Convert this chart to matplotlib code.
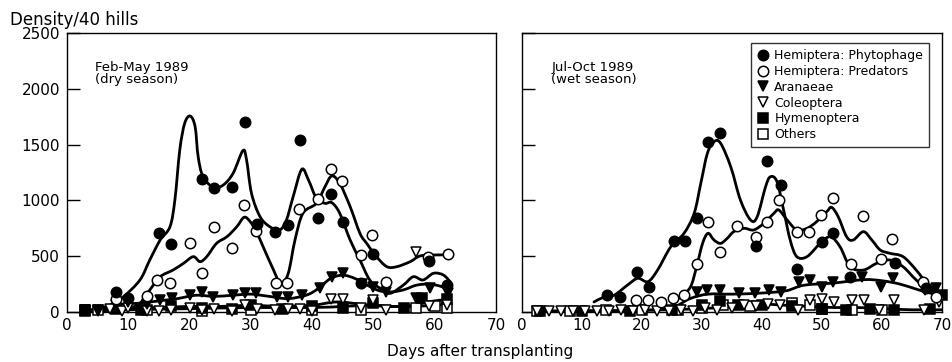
import numpy as np
import matplotlib
matplotlib.use("Agg")
import matplotlib.pyplot as plt
from matplotlib.path import Path
from matplotlib.patches import PathPatch
from matplotlib.lines import Line2D

# ---- Feb-May 1989 (dry season) ----
dry_phy_x = [8, 10, 15, 17, 22, 24, 27, 29, 31, 34, 36, 38, 41, 43, 45, 48, 50, 59, 62]
dry_phy_y = [175, 125, 710, 610, 1190, 1110, 1120, 1700, 790, 715, 780, 1540, 840, 1060, 810, 260, 520, 460, 240]
dry_phy_cx = [3, 7, 9.2, 11.9, 13.5, 15.2, 16.8, 17.6, 18.4, 19.2, 20.1, 20.9, 21.4, 22.2, 23.9, 25.5,
              27.1, 28.7, 29.3, 30.1, 31.5, 33.1, 34.7, 35.8, 36.9, 38.3, 39.4, 40.7, 42.1, 43.2, 44.5,
              46.2, 47.8, 49.4, 51.1, 52.7, 54.9, 56.5, 58.1, 59.8, 61.4, 62.5]
dry_phy_cy = [10, 60, 137, 287, 466, 645, 764, 1004, 1452, 1691, 1756, 1661, 1392, 1212, 1117, 1138,
              1243, 1446, 1362, 1064, 854, 764, 735, 824, 1033, 1278, 1183, 1019, 974, 980, 885,
              645, 466, 287, 212, 167, 242, 316, 287, 347, 332, 272]

dry_pred_x = [8, 13, 14.7, 16.8, 20, 22, 24, 27, 28.9, 30.8, 34.1, 35.9, 37.9, 41, 43, 44.9, 48, 49.8, 52, 58.9, 62.1]
dry_pred_y = [116, 143, 287, 257, 621, 352, 759, 571, 959, 729, 257, 263, 923, 1012, 1281, 1177, 508, 690, 272, 496, 517]
dry_pred_cx = [10, 11.9, 13.5, 15.2, 17.3, 19, 20.6, 21.7, 22.8, 24.4, 26.1, 27.7, 28.9, 29.9, 30.9, 32,
               33.7, 34.9, 36.1, 37.2, 38.5, 40.7, 42.1, 43.2, 44.5, 46.2, 47.8, 48.9, 50.5, 52.2, 53.8,
               56, 57.6, 59.8, 61.9]
dry_pred_cy = [30, 78, 197, 316, 376, 436, 496, 451, 496, 615, 675, 764, 849, 809, 720, 585,
               376, 250, 347, 645, 885, 974, 1123, 1219, 1153, 944, 705, 615, 496, 406, 406,
               451, 502, 511, 511]

dry_ara_x = [3, 5, 8, 10, 13, 15.2, 17.1, 20, 22, 23.9, 27.1, 29, 30.9, 34.2, 36.1, 38.3, 41.3, 43.2, 45.1,
             48.1, 50, 52, 57, 59.2, 62.2]
dry_ara_y = [15, 20, 60, 90, 70, 108, 122, 152, 182, 137, 152, 173, 167, 137, 132, 152, 212, 316, 347,
             248, 227, 180, 122, 212, 167]
dry_ara_cx = [3, 6, 9, 12, 15, 18, 21, 24, 27, 30, 33, 36, 39, 41, 43, 45, 47, 49, 51, 53, 55, 57, 59, 61, 62.5]
dry_ara_cy = [10, 30, 70, 80, 100, 120, 150, 140, 150, 160, 140, 120, 150, 210, 300, 330, 300, 240, 190,
              180, 200, 240, 250, 230, 190]

dry_col_x = [3, 5, 7, 9, 10, 13, 15, 17, 20, 22, 24, 27, 29, 31, 34, 36, 38, 40, 43, 45, 48, 50, 52, 57, 59, 62]
dry_col_y = [15, 10, 30, 10, 40, 5, 10, 15, 40, 20, 30, 10, 60, 30, 20, 30, 30, 5, 120, 120, 40, 110, 20, 540, 50, 60]
dry_col_cx = [3, 10, 15, 20, 25, 30, 35, 40, 44, 48, 52, 56, 60, 62.5]
dry_col_cy = [10, 30, 40, 50, 50, 60, 50, 60, 90, 70, 50, 50, 60, 70]

dry_hym_x = [3, 8, 12, 17, 22, 27, 30, 35, 40, 45, 50, 55, 58, 62]
dry_hym_y = [10, 30, 20, 50, 40, 30, 60, 30, 50, 40, 80, 40, 130, 120]
dry_hym_cx = [3, 10, 20, 30, 40, 45, 50, 55, 60, 62.5]
dry_hym_cy = [5, 20, 30, 40, 40, 50, 60, 50, 100, 110]

dry_oth_x = [3, 5, 13, 22, 30, 40, 48, 57, 60, 62]
dry_oth_y = [20, 15, 20, 10, 20, 20, 20, 40, 50, 40]

# ---- Jul-Oct 1989 (wet season) ----
wet_phy_x = [14.2, 16.3, 19.2, 21.1, 25.3, 27.2, 29.1, 31, 33, 39, 40.8, 43.1, 45.9, 50, 51.8, 54.7, 62.1, 67.4]
wet_phy_y = [152, 132, 361, 227, 639, 636, 839, 1526, 1601, 594, 1353, 1138, 383, 630, 711, 316, 436, 212]
wet_phy_cx = [12, 13.8, 15.4, 17.6, 19.3, 21, 22.6, 24.8, 27, 28.7, 29.8, 30.9, 32, 33.1, 34.8, 36.4,
              38.1, 39.2, 40.6, 41.4, 42.5, 43.6, 44.7, 45.8, 47.5, 49.7, 51.4, 53, 54.7, 56.9, 59.1,
              61.3, 63.5, 65.7, 67.9, 69.6]
wet_phy_cy = [90, 137, 152, 242, 302, 272, 376, 585, 705, 885, 1153, 1422, 1526, 1512, 1300, 1004,
              824, 854, 1123, 1212, 1168, 914, 645, 496, 496, 615, 675, 585, 406, 376, 436,
              466, 406, 287, 197, 182]

wet_pred_x = [19, 21, 23.1, 25.1, 27, 29.1, 31, 33, 35.8, 39, 40.8, 42.9, 45.8, 47.9, 49.8, 51.8, 54.8, 56.8,
              59.8, 61.7, 66.8, 69]
wet_pred_y = [108, 108, 92, 123, 152, 427, 809, 540, 770, 675, 804, 1004, 720, 714, 869, 1019, 427, 863,
              472, 651, 272, 137]
wet_pred_cx = [25, 26.5, 28.1, 29.1, 30.1, 31, 32, 33.1, 34.2, 35.3, 37, 38.6, 40.3, 42, 42.8, 44.2,
               45.8, 47.5, 49.1, 50.8, 51.6, 52.7, 54.1, 55.2, 56.9, 58.3, 59.7, 61.3, 63.5, 65.7,
               67.9, 69.6]
wet_pred_cy = [80, 137, 227, 406, 615, 705, 645, 615, 660, 720, 750, 735, 794, 885, 914, 824,
               735, 750, 809, 899, 938, 854, 675, 645, 720, 645, 556, 526, 496, 376,
               227, 182]

wet_ara_x = [29.2, 30.9, 33, 36.2, 38.9, 41.1, 43.1, 46.1, 48, 50, 51.9, 56.6, 59.9, 61.9, 67.1, 69]
wet_ara_y = [182, 197, 197, 167, 173, 197, 182, 272, 287, 227, 272, 316, 227, 302, 197, 212]
wet_ara_cx = [2, 10, 20, 25, 28, 31, 35, 40, 44, 47, 52, 57, 60, 63, 66, 68, 70]
wet_ara_cy = [10, 10, 15, 40, 120, 160, 160, 170, 190, 240, 260, 290, 280, 250, 200, 170, 150]

wet_col_x = [2.5, 4.5, 6.5, 8.5, 10.5, 12.5, 14.5, 16.5, 18.5, 20.5, 22.5, 24.5, 26.5, 28.5, 30.5, 32.5,
             35, 37, 39, 41, 43, 46, 48, 50, 52, 55, 57, 59.5, 62, 67, 69.5]
wet_col_y = [5, 10, 5, 10, 10, 5, 10, 15, 5, 20, 10, 10, 20, 5, 40, 20,
             40, 60, 50, 70, 60, 20, 110, 120, 90, 110, 110, 20, 110, 20, 90]
wet_col_cx = [2, 10, 20, 30, 35, 40, 44, 48, 52, 56, 60, 65, 70]
wet_col_cy = [5, 10, 15, 30, 50, 70, 60, 50, 40, 40, 30, 20, 20]

wet_hym_x = [3, 10, 18, 25, 30, 33, 36, 40, 45, 50, 54, 58, 62, 68, 70]
wet_hym_y = [5, 5, 10, 20, 60, 100, 60, 60, 50, 30, 20, 30, 20, 30, 150]

wet_oth_x = [2.5, 8, 14, 20, 26, 30, 33.5, 38, 45, 48, 50, 55, 60]
wet_oth_y = [10, 10, 15, 20, 20, 40, 60, 50, 80, 60, 30, 20, 15]

legend_labels = ["Hemiptera: Phytophage", "Hemiptera: Predators", "Aranaeae",
                 "Coleoptera", "Hymenoptera", "Others"]
styles = [("o", "black"), ("o", "white"), ("v", "black"),
          ("v", "white"), ("s", "black"), ("s", "white")]

xticks = [0, 10, 20, 30, 40, 50, 60, 70]
yticks = [0, 500, 1000, 1500, 2000, 2500]


def smooth(ax, xs, ys):
    # catmull-rom through the knots, drawn as bezier segments
    p = np.column_stack([xs, ys]).astype(float)
    n = len(p)
    verts = [p[0]]
    codes = [Path.MOVETO]
    for i in range(n - 1):
        p0 = p[max(i - 1, 0)]
        p1 = p[i]
        p2 = p[i + 1]
        p3 = p[min(i + 2, n - 1)]
        verts += [p1 + (p2 - p0) / 6, p2 - (p3 - p1) / 6, p2]
        codes += [Path.CURVE4] * 3
    ax.add_patch(PathPatch(Path(verts, codes), fill=False, lw=2.0,
                           edgecolor="black", zorder=2, capstyle="round"))


def pts(ax, xs, ys, k):
    m, fc = styles[k]
    ax.plot(xs, ys, ls="none", marker=m, ms=7.5, mfc=fc, mec="black",
            mew=1.1, zorder=3, clip_on=False)


fig = plt.figure(figsize=(9.52, 3.62), dpi=100)
ax1 = fig.add_axes([0.0704, 0.1381, 0.4506, 0.7707])
ax2 = fig.add_axes([0.5483, 0.1381, 0.4412, 0.7707])

for ax in (ax1, ax2):
    ax.set_xlim(0, 70)
    ax.set_ylim(0, 2500)
    ax.set_xticks(xticks)
    ax.set_yticks(yticks)
    ax.tick_params(axis="y", direction="in", length=9, width=1)
    ax.tick_params(axis="x", length=0, pad=4, labelsize=11)
    ax.tick_params(axis="y", labelsize=11, pad=5)
    for s in ax.spines.values():
        s.set_linewidth(1.0)
ax2.set_yticklabels([])

# dry season
smooth(ax1, dry_phy_cx, dry_phy_cy)
smooth(ax1, dry_pred_cx, dry_pred_cy)
smooth(ax1, dry_ara_cx, dry_ara_cy)
smooth(ax1, dry_col_cx, dry_col_cy)
smooth(ax1, dry_hym_cx, dry_hym_cy)
pts(ax1, dry_oth_x, dry_oth_y, 5)
pts(ax1, dry_hym_x, dry_hym_y, 4)
pts(ax1, dry_col_x, dry_col_y, 3)
pts(ax1, dry_ara_x, dry_ara_y, 2)
pts(ax1, dry_pred_x, dry_pred_y, 1)
pts(ax1, dry_phy_x, dry_phy_y, 0)

# wet season
smooth(ax2, wet_phy_cx, wet_phy_cy)
smooth(ax2, wet_pred_cx, wet_pred_cy)
smooth(ax2, wet_ara_cx, wet_ara_cy)
smooth(ax2, wet_col_cx, wet_col_cy)
pts(ax2, wet_oth_x, wet_oth_y, 5)
pts(ax2, wet_hym_x, wet_hym_y, 4)
pts(ax2, wet_col_x, wet_col_y, 3)
pts(ax2, wet_ara_x, wet_ara_y, 2)
pts(ax2, wet_pred_x, wet_pred_y, 1)
pts(ax2, wet_phy_x, wet_phy_y, 0)

ax1.text(0.065, 0.9, "Feb-May 1989\n(dry season)", transform=ax1.transAxes,
         fontsize=9.5, va="top", ha="left", linespacing=0.9)
ax2.text(0.07, 0.9, "Jul-Oct 1989\n(wet season)", transform=ax2.transAxes,
         fontsize=9.5, va="top", ha="left", linespacing=0.9)

handles = [Line2D([], [], ls="none", marker=m, ms=7.5, mfc=fc, mec="black", mew=1.1)
           for m, fc in styles]
leg = ax2.legend(handles, legend_labels, loc="upper right", bbox_to_anchor=(0.97, 0.964),
                 fontsize=9, frameon=True, fancybox=False, handletextpad=0.4,
                 handlelength=1.0, labelspacing=0.22, borderpad=0.5, borderaxespad=0)
leg.get_frame().set_edgecolor("black")
leg.get_frame().set_linewidth(1.0)

fig.text(0.011, 0.945, "Density/40 hills", fontsize=12, ha="left", va="center")
fig.text(0.504, 0.028, "Days after transplanting", fontsize=11, ha="center", va="center")

fig.savefig("out.png", dpi=100)
